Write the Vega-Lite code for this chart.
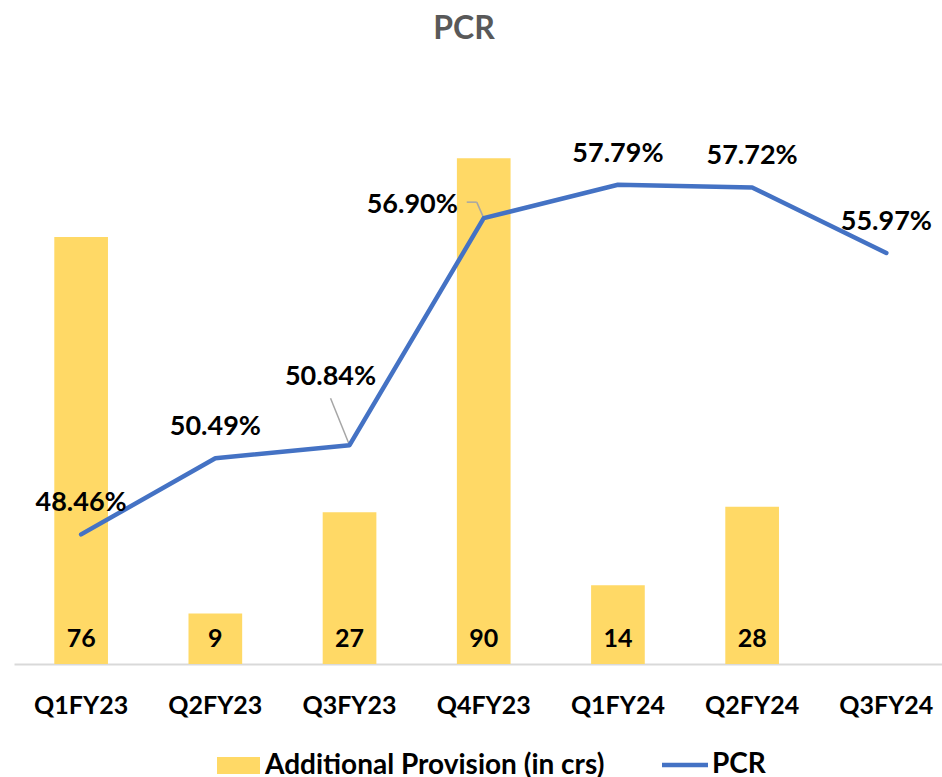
{
  "$schema": "https://vega.github.io/schema/vega-lite/v6.json",
  "width": 928,
  "height": 562,
  "autosize": {"type": "none"},
  "padding": {"left": 14, "top": 102, "right": 0, "bottom": 113},
  "background": "white",
  "title": {"text": "PCR", "font": "Lato", "fontSize": 32, "fontWeight": "bold", "color": "#595959", "anchor": "middle", "baseline": "alphabetic", "offset": 31, "dx": -14},
  "config": {"view": {"stroke": null}},
  "data": {"values": [
    {"q": "Q1FY23", "prov": 76, "pcr": 0.4846},
    {"q": "Q2FY23", "prov": 9, "pcr": 0.5049},
    {"q": "Q3FY23", "prov": 27, "pcr": 0.5084},
    {"q": "Q4FY23", "prov": 90, "pcr": 0.5690},
    {"q": "Q1FY24", "prov": 14, "pcr": 0.5779},
    {"q": "Q2FY24", "prov": 28, "pcr": 0.5772},
    {"q": "Q3FY24", "prov": null, "pcr": 0.5597}
  ]},
  "encoding": {
    "x": {
      "field": "q", "type": "nominal", "sort": null,
      "scale": {"domain": ["Q1FY23", "Q2FY23", "Q3FY23", "Q4FY23", "Q1FY24", "Q2FY24", "Q3FY24"], "paddingInner": 0.6, "paddingOuter": 0.2575, "align": 0.583, "round": false},
      "axis": {"title": null, "labelAngle": 0, "labelFont": "Lato", "labelFontSize": 25, "labelFontWeight": "bold", "labelColor": "#000000", "labelPadding": 49, "labelBaseline": "alphabetic", "ticks": false, "tickSize": 0, "domainColor": "#D9D9D9", "domainWidth": 2, "grid": false}
    }
  },
  "layer": [
    {
      "layer": [
        {
          "mark": {"type": "bar", "color": "#FFD966"},
          "encoding": {
            "y": {"field": "prov", "type": "quantitative", "scale": {"domain": [0, 100]}, "axis": null},
            "fill": {"datum": "Additional Provision (in crs)", "type": "nominal", "scale": {"range": ["#FFD966"]},
              "legend": {"orient": "none", "legendX": 203, "legendY": 642, "title": null, "padding": 0, "symbolType": "M-1,-0.4H1V0.4H-1Z", "symbolSize": 1849, "symbolStrokeWidth": 0, "symbolOpacity": 1, "labelFont": "Lato", "labelFontSize": 28, "labelFontWeight": "bold", "labelColor": "#000000", "labelOffset": 5, "labelLimit": 500}}
          }
        },
        {
          "transform": [{"filter": "datum.prov != null"}],
          "mark": {"type": "text", "font": "Lato", "fontSize": 25, "fontWeight": "bold", "color": "#000000", "baseline": "alphabetic", "dy": -17},
          "encoding": {
            "y": {"datum": 0, "type": "quantitative"},
            "text": {"field": "prov", "type": "quantitative"}
          }
        }
      ]
    },
    {
      "encoding": {
        "y": {"field": "pcr", "type": "quantitative", "scale": {"domain": [0.45, 0.60]}, "axis": null}
      },
      "layer": [
        {
          "mark": {"type": "rule", "color": "#A6A6A6", "strokeWidth": 1.5, "x2Offset": -19, "y2Offset": -47},
          "transform": [{"filter": "datum.q == 'Q3FY23'"}],
          "encoding": {"x2": {"field": "q"}, "y2": {"field": "pcr"}}
        },
        {
          "mark": {"type": "rule", "color": "#A6A6A6", "strokeWidth": 1.5, "x2Offset": -7, "y2Offset": -16},
          "transform": [{"filter": "datum.q == 'Q4FY23'"}],
          "encoding": {"x2": {"field": "q"}, "y2": {"field": "pcr"}}
        },
        {
          "mark": {"type": "rule", "color": "#A6A6A6", "strokeWidth": 1.5, "xOffset": -7, "yOffset": -16, "x2Offset": -17, "y2Offset": -16},
          "transform": [{"filter": "datum.q == 'Q4FY23'"}],
          "encoding": {"x2": {"field": "q"}, "y2": {"field": "pcr"}}
        },
        {
          "mark": {"type": "line", "color": "#4472C4", "strokeWidth": 4.5, "strokeJoin": "round", "strokeCap": "round"},
          "encoding": {
            "stroke": {"datum": "PCR", "type": "nominal", "scale": {"range": ["#4472C4"]},
              "legend": {"orient": "none", "legendX": 645.5, "legendY": 637.5, "title": null, "padding": 0, "symbolType": "stroke", "symbolSize": 2116, "symbolStrokeWidth": 4.5, "labelFont": "Lato", "labelFontSize": 28, "labelFontWeight": "bold", "labelColor": "#000000", "labelOffset": 1.5}}
          }
        },
        {
          "transform": [{"filter": "datum.q != 'Q3FY23' && datum.q != 'Q4FY23'"}],
          "mark": {"type": "text", "font": "Lato", "fontSize": 27, "fontWeight": "bold", "color": "#000000", "baseline": "alphabetic", "dy": -23},
          "encoding": {"text": {"field": "pcr", "type": "quantitative", "format": ".2%"}}
        },
        {
          "transform": [{"filter": "datum.q == 'Q3FY23'"}],
          "mark": {"type": "text", "font": "Lato", "fontSize": 27, "fontWeight": "bold", "color": "#000000", "baseline": "alphabetic", "dx": -19, "dy": -60},
          "encoding": {"text": {"field": "pcr", "type": "quantitative", "format": ".2%"}}
        },
        {
          "transform": [{"filter": "datum.q == 'Q4FY23'"}],
          "mark": {"type": "text", "font": "Lato", "fontSize": 27, "fontWeight": "bold", "color": "#000000", "baseline": "alphabetic", "dx": -71.5, "dy": -5},
          "encoding": {"text": {"field": "pcr", "type": "quantitative", "format": ".2%"}}
        }
      ]
    }
  ],
  "resolve": {"scale": {"y": "independent"}}
}
